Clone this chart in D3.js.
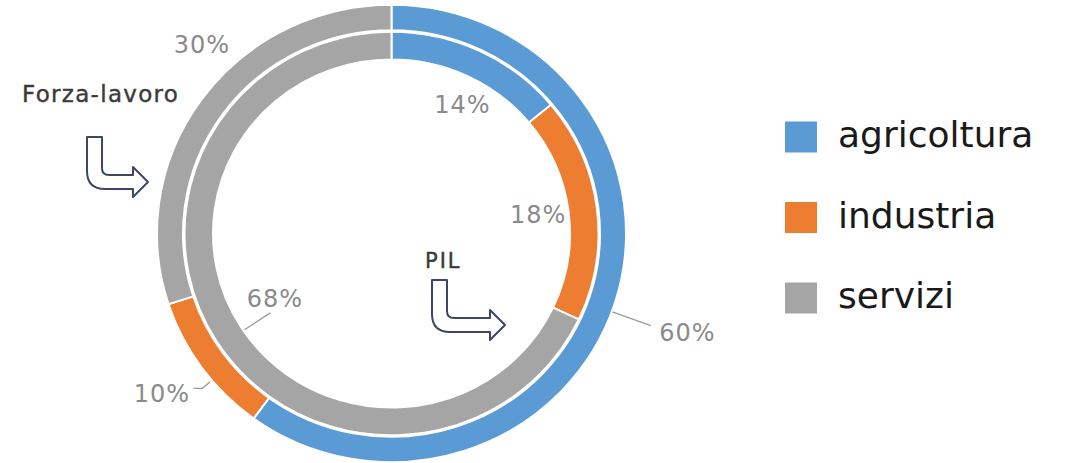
<!DOCTYPE html>
<html>
<head>
<meta charset="utf-8">
<script src="https://cdn.jsdelivr.net/npm/d3@7"></script>
<style>
  html, body { margin: 0; padding: 0; background: #fff; }
  svg { display: block; }
</style>
</head>
<body>
<div id="chart"></div>
<script>
// data
const categories = ["agricoltura", "industria", "servizi"];
const forzaLavoro = [60, 10, 30];   // outer ring
const pil = [14, 18, 68];           // inner ring
const colors = ["#5B9BD5", "#ED7D31", "#A5A5A5"];

const width = 1066;
const height = 463;
const cx = 391.5, cy = 233.5;
const sy = 0.975;               // the ring is slightly squashed vertically

const svg = d3.select("#chart").append("svg")
    .attr("width", width)
    .attr("height", height)
    .attr("viewBox", [0, 0, width, height]);

const pie = d3.pie().sort(null).value(d => d);
const deg = Math.PI / 180;

// ring geometry + label layout (radius / angle nudge per slice, leader radii)
const rings = [
  {values: forzaLavoro, r0: 208.5, r1: 234.5,
   labels: [
     {r: 313, nudge: 1, leader: [235, 276, 2]},
     {r: 282, nudge: 0.5, leader: [237, 247, -4], tail: -9},
     {r: 271, nudge: 9.6}
   ]},
  {values: pil, r0: 178.5, r1: 207,
   labels: [
     {r: 150, nudge: 3},
     {r: 148, nudge: -0.6},
     {r: 134, nudge: 2.8, leader: [177, 146, -1.5]}
   ]}
];

const pos = (a, r) => [cx + r * Math.sin(a), cy - r * Math.cos(a) * sy];

const g = svg.append("g")
    .attr("transform", `translate(${cx},${cy}) scale(1,${sy})`);

rings.forEach(ring => {
  const arc = d3.arc().innerRadius(ring.r0).outerRadius(ring.r1);
  const arcs = pie(ring.values);

  g.append("g").selectAll("path")
    .data(arcs)
    .join("path")
      .attr("d", arc)
      .attr("fill", (d, i) => colors[i])
      .attr("stroke", "#fff")
      .attr("stroke-width", 2);

  arcs.forEach((d, i) => {
    const lay = ring.labels[i];
    const mid = (d.startAngle + d.endAngle) / 2;
    if (lay.leader) {
      const a = mid + lay.leader[2] * deg;
      const p1 = pos(a, lay.leader[0]);
      const p2 = pos(a, lay.leader[1]);
      const pts = [p1, p2];
      if (lay.tail) pts.push([p2[0] + lay.tail, p2[1]]);
      svg.append("path")
          .attr("d", d3.line()(pts))
          .attr("fill", "none")
          .attr("stroke", "#9a9a9a")
          .attr("stroke-width", 1.3);
    }
    const [x, y] = pos(mid + lay.nudge * deg, lay.r);
    svg.append("text")
        .attr("x", x)
        .attr("y", y)
        .attr("dy", "0.36em")
        .attr("text-anchor", "middle")
        .attr("font-family", "DejaVu Sans, sans-serif")
        .attr("font-size", 24)
        .attr("letter-spacing", 1)
        .attr("fill", "#8a8a8a")
        .text(d.data + "%");
  });
});

// bent "hollow" arrows with captions
function arrowPath(w) {
  const hx = w - 15;
  return `M0,0 H15 V31 Q15,38 22,38 H${hx} V30 L${w},45 L${hx},60 V52 H18 Q0,52 0,34 Z`;
}

const notes = [
  {text: "Forza-lavoro", tx: 22, ty: 102, ax: 87, ay: 137, w: 61, size: 23, ls: 1.3},
  {text: "PIL", tx: 425, ty: 268, ax: 432, ay: 280, w: 73, size: 21, ls: 2}
];

notes.forEach(n => {
  svg.append("text")
      .attr("x", n.tx)
      .attr("y", n.ty)
      .attr("font-family", "DejaVu Sans, sans-serif")
      .attr("font-size", n.size)
      .attr("letter-spacing", n.ls)
      .attr("fill", "#3a3a3a")
      .attr("stroke", "#3a3a3a")
      .attr("stroke-width", 0.4)
      .text(n.text);
  svg.append("path")
      .attr("transform", `translate(${n.ax},${n.ay})`)
      .attr("d", arrowPath(n.w))
      .attr("fill", "#fff")
      .attr("stroke", "#3b4668")
      .attr("stroke-width", 2)
      .attr("stroke-linejoin", "round");
});

// legend
const legendY = d3.scalePoint().domain(categories).range([137, 298]);
const legend = svg.append("g").selectAll("g")
  .data(categories)
  .join("g")
    .attr("transform", d => `translate(785,${legendY(d)})`);

legend.append("rect")
    .attr("x", 0)
    .attr("y", -15.5)
    .attr("width", 32)
    .attr("height", 31)
    .attr("fill", (d, i) => colors[i]);

legend.append("text")
    .attr("x", 53)
    .attr("y", 10)
    .attr("font-family", "DejaVu Sans, sans-serif")
    .attr("font-size", 36)
    .attr("fill", "#1a1a1a")
    .text(d => d);
</script>
</body>
</html>
